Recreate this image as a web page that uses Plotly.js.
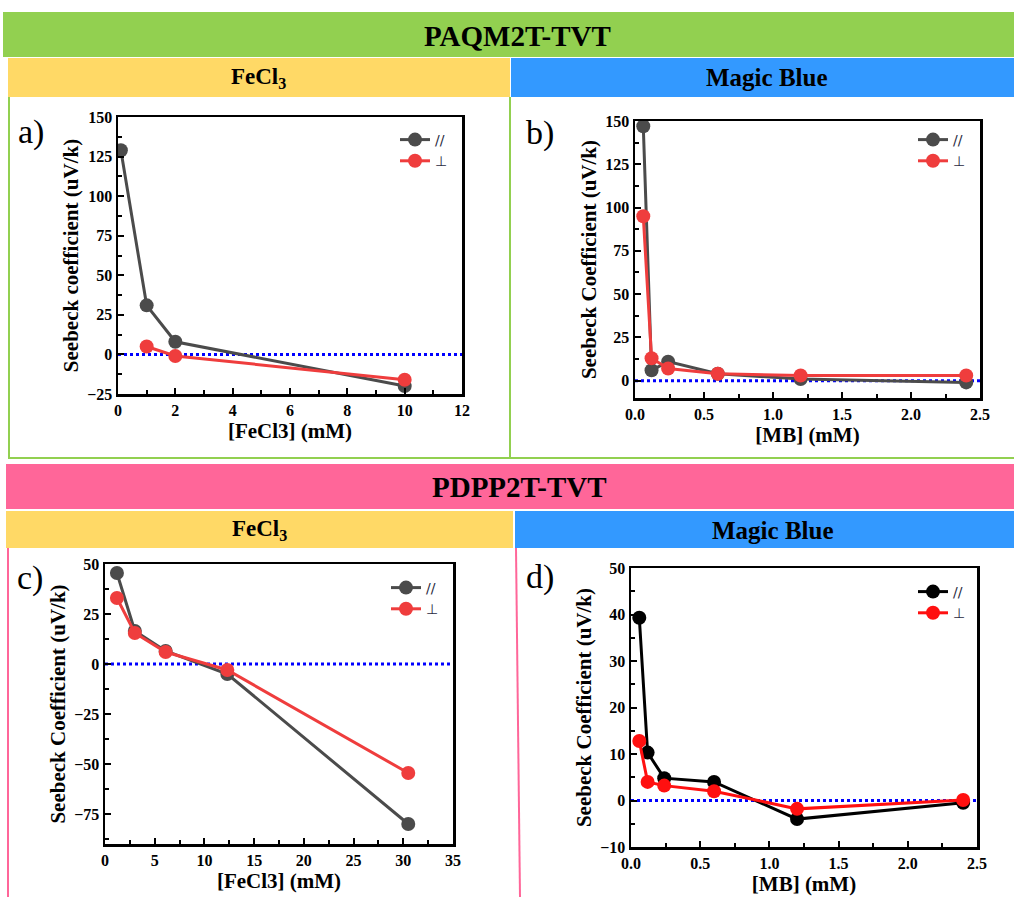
<!DOCTYPE html>
<html><head><meta charset="utf-8">
<script src="https://cdn.plot.ly/plotly-3.0.1.min.js"></script>
<style>html,body{margin:0;padding:0;background:#fff;}#chart{width:1014px;height:897px;}</style>
</head><body><div id="chart"></div>
<script>
// ---------- data ----------
const legendNames = ['//', '\u22A5'];
const aConcPar = [0.1, 1, 2, 10];
const aSeebeckPar = [129, 31, 8, -20];
const aConcPerp = [1, 2, 10];
const aSeebeckPerp = [5, -1, -16];
const bConc = [0.06, 0.12, 0.24, 0.6, 1.2, 2.4];
const bSeebeckPar = [147, 6, 11, 4, 1, -1];
const bSeebeckPerp = [95, 13, 7, 4, 3, 3];
const cConc = [1.2, 3, 6.1, 12.3, 30.5];
const cSeebeckPar = [45.5, 16.5, 6.5, -5, -80];
const cSeebeckPerp = [33, 15.5, 6, -3, -54.5];
const dConc = [0.06, 0.12, 0.24, 0.6, 1.2, 2.4];
const dSeebeckPar = [39.3, 10.3, 4.8, 4.0, -4.0, -0.5];
const dSeebeckPerp = [12.8, 4.0, 3.2, 2.0, -1.8, 0.1];

// ---------- layout helpers ----------
const W = 1014, H = 897;
const FONT = 'Liberation Serif, Times New Roman, serif';
const px = x => x / W;
const py = y => 1 - y / H;
const GRAY = '#4b4b4b', RED = '#ef3d3d', BLACK = '#000000', RED2 = '#ff1010';

function trace(x, y, name, color, xa, ya, leg) {
  return {x: x, y: y, name: name, type: 'scatter', mode: 'lines+markers',
    xaxis: xa, yaxis: ya, legend: leg, showlegend: true,
    line: {color: color, width: 3}, marker: {color: color, size: 14}};
}
const TICKFONT = {family: FONT, size: 16, weight: 'bold', color: '#000'};
const TITLEFONT = {family: FONT, size: 21, weight: 'bold', color: '#000'};
function xAxis(l, r, range, dtick, anchor, title, fmt) {
  return {domain: [px(l), px(r)], range: range, dtick: dtick, tick0: 0, anchor: anchor,
    showline: true, linewidth: 2.5, linecolor: '#000', mirror: true, showgrid: false, zeroline: false,
    ticks: 'inside', ticklen: 6, tickwidth: 2, tickcolor: '#000', tickformat: fmt,
    tickprefix: '<b>', ticksuffix: '</b>',
    minor: {ticks: 'inside', ticklen: 4, tickwidth: 2, tickcolor: '#000', dtick: dtick / 2, showgrid: false},
    tickfont: TICKFONT,
    title: {text: title, font: TITLEFONT, standoff: 5}};
}
function yAxis(t, b, range, dtick, anchor, title) {
  return {domain: [py(b), py(t)], range: range, dtick: dtick, tick0: 0, anchor: anchor,
    showline: true, linewidth: 2.5, linecolor: '#000', mirror: true, showgrid: false, zeroline: false,
    ticks: 'inside', ticklen: 6, tickwidth: 2, tickcolor: '#000',
    tickprefix: '<b>', ticksuffix: '</b>',
    minor: {ticks: 'inside', ticklen: 4, tickwidth: 2, tickcolor: '#000', dtick: dtick / 2, showgrid: false},
    tickfont: TICKFONT,
    title: {text: title, font: TITLEFONT, standoff: 3}};
}
function legendAt(x, y) {
  return {x: px(x), y: py(y), xanchor: 'left', yanchor: 'top', bgcolor: 'rgba(0,0,0,0)',
    font: {family: 'DejaVu Sans, sans-serif', size: 14, color: '#2a2a40'}, tracegroupgap: 0, itemwidth: 30};
}

const data = [
  trace(aConcPar, aSeebeckPar, legendNames[0], GRAY, 'x', 'y', 'legend'),
  trace(aConcPerp, aSeebeckPerp, legendNames[1], RED, 'x', 'y', 'legend'),
  trace(bConc, bSeebeckPar, legendNames[0], GRAY, 'x2', 'y2', 'legend2'),
  trace(bConc, bSeebeckPerp, legendNames[1], RED, 'x2', 'y2', 'legend2'),
  trace(cConc, cSeebeckPar, legendNames[0], GRAY, 'x3', 'y3', 'legend3'),
  trace(cConc, cSeebeckPerp, legendNames[1], RED, 'x3', 'y3', 'legend3'),
  trace(dConc, dSeebeckPar, legendNames[0], BLACK, 'x4', 'y4', 'legend4'),
  trace(dConc, dSeebeckPerp, legendNames[1], RED2, 'x4', 'y4', 'legend4')
];

function rect(x0, y0, x1, y1, color) {
  return {type: 'rect', xref: 'paper', yref: 'paper', x0: px(x0), x1: px(x1), y0: py(y1), y1: py(y0),
    fillcolor: color, line: {width: 0}, layer: 'below'};
}
function seg(x0, y0, x1, y1, color) {
  return {type: 'line', xref: 'paper', yref: 'paper', x0: px(x0), x1: px(x1), y0: py(y0), y1: py(y1),
    line: {color: color, width: 2}, layer: 'below'};
}
function zeroLine(xa, ya) {
  return {type: 'line', xref: xa + ' domain', yref: ya, x0: 0, x1: 1, y0: 0, y1: 0,
    line: {color: '#0000ff', width: 3, dash: 'dot'}, layer: 'below'};
}
function txt(x, y, text, size, bold) {
  return {xref: 'paper', yref: 'paper', x: px(x), y: py(y), text: text, showarrow: false,
    xanchor: 'center', yanchor: 'middle',
    font: {family: FONT, size: size, color: '#000', weight: bold ? 'bold' : 'normal'}};
}

const GREEN = '#92d050', YELLOW = '#ffd966', BLUE = '#3399ff', PINK = '#ff6699';

const layout = {
  width: W, height: H, margin: {l: 0, r: 0, t: 0, b: 0},
  paper_bgcolor: '#fff', plot_bgcolor: 'rgba(0,0,0,0)',
  xaxis: xAxis(118, 462, [0, 12], 2, 'y', '[FeCl3] (mM)'),
  yaxis: yAxis(117, 394, [-25, 150], 25, 'x', 'Seebeck coefficient (uV/k)'),
  xaxis2: xAxis(635, 980, [0, 2.5], 0.5, 'y2', '[MB] (mM)', '.1f'),
  yaxis2: yAxis(121, 398, [-10, 150], 25, 'x2', 'Seebeck Coefficient (uV/k)'),
  xaxis3: xAxis(105, 453, [0, 35], 5, 'y3', '[FeCl3] (mM)'),
  yaxis3: yAxis(564, 844, [-90, 50], 25, 'x3', 'Seebeck Coefficient (uV/k)'),
  xaxis4: xAxis(631, 977, [0, 2.5], 0.5, 'y4', '[MB] (mM)', '.1f'),
  yaxis4: yAxis(568, 847, [-10, 50], 10, 'x4', 'Seebeck Coefficient (uV/k)'),
  legend: legendAt(395, 124),
  legend2: legendAt(913, 124),
  legend3: legendAt(386, 572),
  legend4: legendAt(913, 576),
  shapes: [
    rect(3, 12, 1014, 57, GREEN),
    rect(8, 58, 510, 97, YELLOW),
    rect(511, 58, 1014, 97, BLUE),
    seg(9, 97, 9, 458, GREEN),
    seg(510, 97, 510, 458, GREEN),
    seg(8, 458, 1014, 458, GREEN),
    rect(6, 464, 1014, 509, PINK),
    rect(6, 511, 513, 548, YELLOW),
    rect(515, 511, 1014, 548, BLUE),
    seg(8, 548, 8, 897, PINK),
    seg(516, 548, 520, 897, PINK),
    zeroLine('x', 'y'), zeroLine('x2', 'y2'), zeroLine('x3', 'y3'), zeroLine('x4', 'y4')
  ],
  annotations: [
    txt(517, 36, 'PAQM2T-TVT', 29, true),
    txt(258, 78, 'FeCl<sub>3</sub>', 23, true),
    txt(767, 78, 'Magic Blue', 25, true),
    txt(519, 487, 'PDPP2T-TVT', 29, true),
    txt(259, 530, 'FeCl<sub>3</sub>', 23, true),
    txt(773, 530, 'Magic Blue', 25, true),
    txt(31, 132, 'a)', 34, false),
    txt(540, 133, 'b)', 34, false),
    txt(30, 578, 'c)', 34, false),
    txt(540, 577, 'd)', 34, false)
  ]
};

Plotly.newPlot('chart', data, layout, {displayModeBar: false, staticPlot: true});
</script>
</body></html>
